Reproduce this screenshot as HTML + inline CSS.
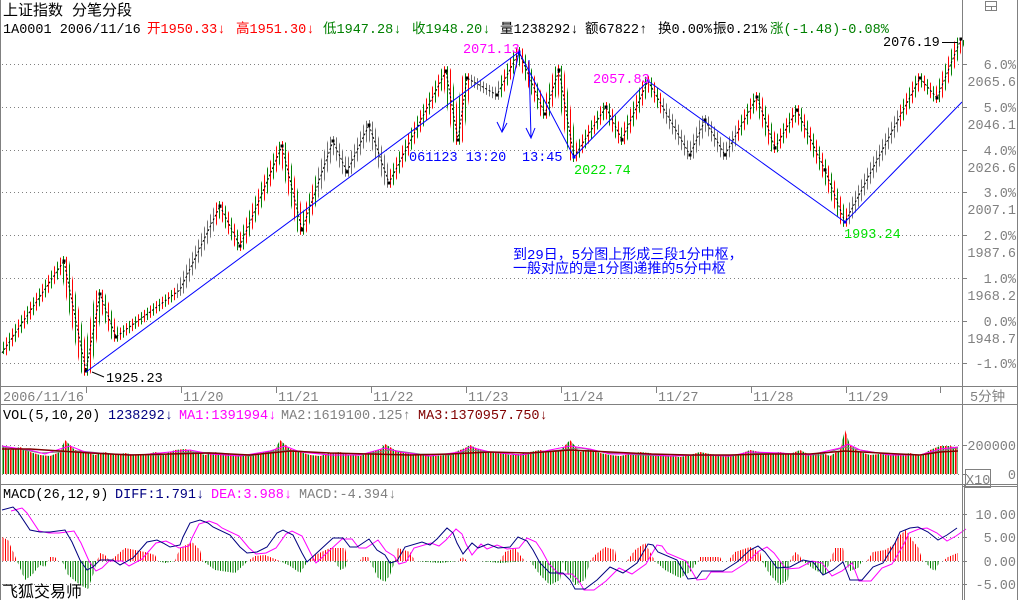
<!DOCTYPE html>
<html><head><meta charset="utf-8">
<style>
html,body{margin:0;padding:0;background:#fff;}
svg{display:block;font-family:"Liberation Mono","Noto Sans CJK SC",monospace;}
</style></head>
<body>
<svg width="1020" height="600" xmlns="http://www.w3.org/2000/svg" xmlns:xlink="http://www.w3.org/1999/xlink">
<defs>
<pattern id="rg" patternUnits="userSpaceOnUse" x="0" y="0" width="6" height="20">
<rect x="0" y="0" width="1" height="20" fill="#ff0000"/>
<rect x="3" y="0" width="1" height="20" fill="#008000"/>
</pattern>
<pattern id="gp" patternUnits="userSpaceOnUse" x="0" y="0" width="3" height="20">
<rect x="0" y="0" width="1" height="20" fill="#707070"/>
</pattern>
<pattern id="vrg" patternUnits="userSpaceOnUse" x="0" y="0" width="5" height="20">
<rect x="0" y="0" width="1.6" height="20" fill="#ff0000"/>
<rect x="2.5" y="0" width="1.6" height="20" fill="#008000"/>
</pattern>
<pattern id="hr" patternUnits="userSpaceOnUse" x="0" y="0" width="2.5" height="20">
<rect x="0" y="0" width="1" height="20" fill="#ff0000"/>
</pattern>
<pattern id="hg" patternUnits="userSpaceOnUse" x="0" y="0" width="2.5" height="20">
<rect x="0" y="0" width="1" height="20" fill="#008000"/>
</pattern>
<clipPath id="grayc">
<rect x="175" y="0" width="40" height="386"/>
<rect x="318" y="0" width="72" height="386"/>
<rect x="470" y="0" width="30" height="386"/>
<rect x="662" y="0" width="76" height="386"/>
<rect x="848" y="0" width="52" height="386"/>
</clipPath>
<clipPath id="above"><rect x="0" y="486" width="962" height="75"/></clipPath>
<clipPath id="below"><rect x="0" y="561" width="962" height="39"/></clipPath>
<polyline id="zz" points="2,353 64,261 86,371 100,294 116,337 180,290 220,206 240,246 282,146 302,230 333,141 347,172 369,125 389,183 446,71 458,140 467,78 497,95 519,52 545,114 559,70 574,157 606,107 622,140 648,81 690,155 705,120 725,155 757,97 775,148 797,110 825,170 845,222 920,78 937,98 961,39" fill="none"/>
<polyline id="diff" fill="none" points="2,510 13,507 18,512 30,530 40,532 50,532 65,530 72,542 80,560 87,570 93,567 100,560 113,560 120,565 133,558 147,542 157,540 163,543 170,547 180,545 183,537 190,523 200,520 208,523 213,527 230,535 240,547 247,553 257,552 267,547 277,533 283,530 293,535 302,553 307,562 320,550 333,538 343,538 350,547 357,547 369,539 377,550 385,555 390,563 397,561 405,547 422,542 430,545 437,539 447,528 453,533 457,543 463,554 472,543 478,548 488,544 498,548 510,547 518,537 527,541 533,550 540,563 550,573 563,573 570,580 575,589 585,589 597,580 610,567 623,573 637,563 648,544 653,545 658,552 677,560 688,579 697,578 702,571 723,571 737,562 750,550 758,546 765,552 777,568 790,567 803,560 813,562 823,575 833,570 843,562 850,580 862,580 873,567 883,563 895,543 900,532 910,528 918,527 928,532 938,540 947,535 957,528"/>
</defs>
<rect width="1020" height="600" fill="#fff"/>
<g stroke="#808080" stroke-dasharray="1,3">
<line x1="2" y1="64.5" x2="962" y2="64.5"/><line x1="2" y1="107.5" x2="962" y2="107.5"/>
<line x1="2" y1="150.5" x2="962" y2="150.5"/><line x1="2" y1="192.5" x2="962" y2="192.5"/>
<line x1="2" y1="235.5" x2="962" y2="235.5"/><line x1="2" y1="278.5" x2="962" y2="278.5"/>
<line x1="2" y1="321.5" x2="962" y2="321.5"/><line x1="2" y1="363.5" x2="962" y2="363.5"/>
<line x1="2" y1="445.5" x2="962" y2="445.5"/><line x1="2" y1="474.5" x2="962" y2="474.5"/>
<line x1="2" y1="514.5" x2="962" y2="514.5"/><line x1="2" y1="537.5" x2="962" y2="537.5"/>
<line x1="2" y1="561.5" x2="962" y2="561.5"/><line x1="2" y1="584.5" x2="962" y2="584.5"/>
</g>
<g stroke="#808080">
<line x1="962" y1="64.5" x2="967" y2="64.5"/><line x1="962" y1="107.5" x2="967" y2="107.5"/>
<line x1="962" y1="150.5" x2="967" y2="150.5"/><line x1="962" y1="192.5" x2="967" y2="192.5"/>
<line x1="962" y1="235.5" x2="967" y2="235.5"/><line x1="962" y1="278.5" x2="967" y2="278.5"/>
<line x1="962" y1="321.5" x2="967" y2="321.5"/><line x1="962" y1="363.5" x2="967" y2="363.5"/>
<line x1="962" y1="445.5" x2="967" y2="445.5"/><line x1="962" y1="474.5" x2="967" y2="474.5"/>
<line x1="962" y1="514.5" x2="967" y2="514.5"/><line x1="962" y1="537.5" x2="967" y2="537.5"/>
<line x1="962" y1="561.5" x2="967" y2="561.5"/><line x1="962" y1="584.5" x2="967" y2="584.5"/>
</g>
<use xlink:href="#zz" stroke="url(#rg)" stroke-width="10" stroke-linejoin="round"/>
<g clip-path="url(#grayc)">
<use xlink:href="#zz" stroke="#fff" stroke-width="11" stroke-linejoin="round"/>
<use xlink:href="#zz" stroke="url(#gp)" stroke-width="10" stroke-linejoin="round"/>
</g>
<use xlink:href="#zz" stroke="#000" stroke-dasharray="2,2"/>
<g fill="#000">
<rect x="62.5" y="259.5" width="3" height="3"/><rect x="84.5" y="369.5" width="3" height="3"/><rect x="98.5" y="292.5" width="3" height="3"/><rect x="114.5" y="335.5" width="3" height="3"/><rect x="218.5" y="204.5" width="3" height="3"/><rect x="238.5" y="244.5" width="3" height="3"/><rect x="280.5" y="144.5" width="3" height="3"/><rect x="300.5" y="228.5" width="3" height="3"/><rect x="331.5" y="139.5" width="3" height="3"/><rect x="345.5" y="170.5" width="3" height="3"/><rect x="367.5" y="123.5" width="3" height="3"/><rect x="387.5" y="181.5" width="3" height="3"/><rect x="444.5" y="69.5" width="3" height="3"/><rect x="456.5" y="138.5" width="3" height="3"/><rect x="465.5" y="76.5" width="3" height="3"/><rect x="495.5" y="93.5" width="3" height="3"/><rect x="543.5" y="112.5" width="3" height="3"/><rect x="557.5" y="68.5" width="3" height="3"/><rect x="604.5" y="105.5" width="3" height="3"/><rect x="620.5" y="138.5" width="3" height="3"/><rect x="688.5" y="153.5" width="3" height="3"/><rect x="703.5" y="118.5" width="3" height="3"/><rect x="723.5" y="153.5" width="3" height="3"/><rect x="755.5" y="95.5" width="3" height="3"/><rect x="773.5" y="146.5" width="3" height="3"/><rect x="795.5" y="108.5" width="3" height="3"/><rect x="823.5" y="168.5" width="3" height="3"/><rect x="918.5" y="76.5" width="3" height="3"/><rect x="935.5" y="96.5" width="3" height="3"/><rect x="959.5" y="37.5" width="3" height="3"/>
</g>
<g fill="#0000ff">
<rect x="517.5" y="50.5" width="3" height="3"/><rect x="572.5" y="155.5" width="3" height="3"/><rect x="646.5" y="79.5" width="3" height="3"/><rect x="843.5" y="220.5" width="3" height="3"/>
</g>
<g stroke="#0000ff" fill="none">
<polyline points="86,372 519,52 574,157 648,81 845,222 962,102"/>
<line x1="519" y1="52" x2="502" y2="132"/>
<polyline points="497,122 502,132 507,123"/>
<line x1="529" y1="60" x2="531" y2="138"/>
<polyline points="526,128 531,138 535,128"/>
</g>
<polygon fill="url(#vrg)" points="2,474 2,446 10,450 20,447 30,452 40,455 50,456 60,452 65,440 75,450 85,452 95,455 105,452 115,455 125,453 135,455 145,455 155,452 165,454 175,450 185,449 195,452 205,455 215,452 225,454 235,455 245,456 255,455 265,452 275,450 280,440 290,449 300,452 310,455 320,456 330,453 340,452 350,455 360,456 370,452 380,450 385,444 395,450 405,453 415,455 425,455 435,456 445,455 455,452 465,448 470,445 480,450 490,452 500,453 510,455 520,454 530,452 540,450 550,452 560,451 570,440 580,452 590,449 600,453 610,455 620,456 630,454 640,452 650,453 660,455 670,456 680,457 690,455 700,452 710,454 720,455 730,455 740,454 750,450 760,452 770,453 780,452 790,454 800,450 810,455 820,452 830,456 840,450 845,430 850,445 860,452 870,455 880,454 890,455 900,455 910,453 920,456 930,450 940,446 950,446 958,448 958,474"/>
<polyline fill="none" stroke="#808080" points="2,447 20,449 40,453 60,452 80,451 100,453 130,455 160,455 190,452 220,453 250,456 280,450 300,451 330,455 360,455 390,450 420,454 450,455 470,450 490,452 520,455 550,451 580,448 610,453 640,455 670,456 700,455 730,456 760,453 790,454 820,455 845,447 860,450 890,455 920,455 950,449 958,448"/>
<polyline fill="none" stroke="#ff00ff" points="2,446 15,448 30,450 45,454 60,449 70,446 85,452 110,454 140,455 170,452 190,450 210,454 240,456 270,451 285,446 300,452 330,455 360,455 385,448 400,452 430,456 460,452 470,447 490,452 520,455 545,451 570,446 590,449 610,454 640,454 670,456 700,455 730,456 750,452 780,453 810,455 840,448 848,444 860,450 890,455 920,455 940,449 958,447"/>
<polyline fill="none" stroke="#800000" stroke-width="1.5" points="2,449 30,449 60,451 90,453 130,455 170,454 210,453 250,455 290,451 330,453 370,454 410,455 450,454 490,452 530,453 570,450 610,452 650,454 690,455 730,455 770,454 810,454 845,451 880,453 920,455 940,452 958,451"/>
<polygon clip-path="url(#above)" fill="url(#hr)" points="2,561 2,537 8,540 15,556 17,561 48,561 50,557 55,557 58,561 97,561 100,553 105,555 110,561 125,548 135,550 145,552 155,555 158,561 175,561 180,548 192,542 200,550 203,561 248,561 255,556 265,555 280,561 308,561 315,555 330,548 345,548 348,561 360,561 362,557 368,557 370,561 395,561 398,548 410,552 415,561 458,561 462,557 468,561 500,561 505,552 515,548 520,555 525,561 590,561 595,555 605,547 615,550 617,561 627,561 635,550 645,543 655,561 698,561 700,557 720,557 722,561 728,561 735,552 750,547 760,552 762,561 790,561 795,552 800,556 802,561 830,561 835,548 843,548 845,561 867,561 873,552 885,550 893,545 900,535 906,530 912,540 918,547 923,561 943,561 948,557 955,554 958,553 958,561"/>
<polygon clip-path="url(#below)" fill="url(#hg)" points="17,561 25,580 32,575 40,565 45,567 48,561 62,561 68,575 80,585 88,589 93,575 97,561 158,561 165,563 175,561 203,561 215,570 235,573 248,561 280,561 290,566 300,573 308,561 335,561 340,570 345,568 348,561 370,561 378,578 385,582 390,575 395,561 415,561 440,563 458,561 480,561 500,563 525,561 530,561 540,575 550,585 560,580 563,561 565,570 575,585 585,580 590,561 655,561 665,570 680,578 690,572 698,561 762,561 770,575 780,585 788,580 790,561 803,561 815,570 825,575 830,561 845,561 850,571 858,568 862,561 925,561 930,568 935,571 940,561"/>
<use xlink:href="#diff" stroke="#ff00ff" transform="translate(9,1)"/>
<use xlink:href="#diff" stroke="#000080"/>
<line x1="0.5" y1="0" x2="0.5" y2="600" stroke="#808080"/>
<line x1="962.5" y1="0" x2="962.5" y2="600" stroke="#808080"/>
<line x1="964.5" y1="485" x2="964.5" y2="600" stroke="#808080"/>
<line x1="1017.5" y1="0" x2="1017.5" y2="600" stroke="#808080"/>
<line x1="0" y1="386.5" x2="1017" y2="386.5" stroke="#808080"/>
<line x1="0" y1="404.5" x2="1017" y2="404.5" stroke="#808080"/>
<line x1="0" y1="484.5" x2="1017" y2="484.5" stroke="#808080"/>
<line x1="962" y1="486.5" x2="1017" y2="486.5" stroke="#808080"/>
<rect x="985.5" y="1.5" width="11" height="9" fill="none" stroke="#808080"/>
<line x1="985" y1="6.5" x2="997" y2="6.5" stroke="#808080"/>
<line x1="991.5" y1="6" x2="991.5" y2="11" stroke="#808080"/>
<g stroke="#808080">
<line x1="86.5" y1="387" x2="86.5" y2="393"/><line x1="181.5" y1="387" x2="181.5" y2="393"/><line x1="276.5" y1="387" x2="276.5" y2="393"/><line x1="371.5" y1="387" x2="371.5" y2="393"/><line x1="466.5" y1="387" x2="466.5" y2="393"/><line x1="561.5" y1="387" x2="561.5" y2="393"/><line x1="656.5" y1="387" x2="656.5" y2="393"/><line x1="751.5" y1="387" x2="751.5" y2="393"/><line x1="846.5" y1="387" x2="846.5" y2="393"/><line x1="940.5" y1="387" x2="940.5" y2="393"/>
</g>
<text x="3" y="15" font-size="15" fill="#000">上证指数 分笔分段</text>
<g font-size="13.5">
<text x="3" y="33" fill="#000">1A0001 2006/11/16</text>
<text x="147" y="33" fill="#ff0000">开1950.33↓</text>
<text x="236" y="33" fill="#ff0000">高1951.30↓</text>
<text x="323" y="33" fill="#008000">低1947.28↓</text>
<text x="412" y="33" fill="#008000">收1948.20↓</text>
<text x="500" y="33" fill="#000">量1238292↓</text>
<text x="585" y="33" fill="#000">额67822↑</text>
<text x="658" y="33" fill="#000">换0.00%</text>
<text x="713" y="33" fill="#000">振0.21%</text>
<text x="770" y="33" fill="#008000">涨(-1.48)-0.08%</text>
</g>
<g font-size="13.5" fill="#808080" text-anchor="end">
<text x="1016" y="69">6.0%</text><text x="1016" y="86">2065.6</text>
<text x="1016" y="112">5.0%</text><text x="1016" y="129">2046.1</text>
<text x="1016" y="155">4.0%</text><text x="1016" y="172">2026.6</text>
<text x="1016" y="197">3.0%</text><text x="1016" y="214">2007.1</text>
<text x="1016" y="240">2.0%</text><text x="1016" y="257">1987.6</text>
<text x="1016" y="283">1.0%</text><text x="1016" y="300">1968.2</text>
<text x="1016" y="326">0.0%</text><text x="1016" y="343">1948.7</text>
<text x="1016" y="368">-1.0%</text>
<text x="1016" y="450">200000</text>
<text x="1016" y="479">0</text>
<text x="1016" y="519">10.00</text>
<text x="1016" y="542">5.00</text>
<text x="1016" y="566">0.00</text>
<text x="1016" y="589">-5.00</text>
</g>
<rect x="965.5" y="469.5" width="25" height="18" fill="none" stroke="#808080"/>
<text x="966" y="484" font-size="13.5" fill="#808080">X10</text>
<text x="970" y="401" font-size="13.5" fill="#808080">5分钟</text>
<g font-size="13.5" fill="#808080">
<text x="3" y="401">2006/11/16</text>
<text x="183" y="401">11/20</text>
<text x="278" y="401">11/21</text>
<text x="373" y="401">11/22</text>
<text x="468" y="401">11/23</text>
<text x="563" y="401">11/24</text>
<text x="658" y="401">11/27</text>
<text x="753" y="401">11/28</text>
<text x="848" y="401">11/29</text>
</g>
<g font-size="13.5">
<text x="3" y="419" fill="#000">VOL(5,10,20)</text>
<text x="108" y="419" fill="#000080">1238292↓</text>
<text x="179" y="419" fill="#ff00ff">MA1:1391994↓</text>
<text x="281" y="419" fill="#808080">MA2:1619100.125↑</text>
<text x="418" y="419" fill="#800000">MA3:1370957.750↓</text>
<text x="3" y="498" fill="#000">MACD(26,12,9)</text>
<text x="115" y="498" fill="#000080">DIFF:1.791↓</text>
<text x="211" y="498" fill="#ff00ff">DEA:3.988↓</text>
<text x="299" y="498" fill="#808080">MACD:-4.394↓</text>
</g>
<text x="2" y="597" font-size="16" fill="#000">飞狐交易师</text>
<g font-size="13.5">
<text x="463" y="53" fill="#ff00ff">2071.13</text>
<text x="593" y="83" fill="#ff00ff">2057.83</text>
<text x="574" y="174" fill="#00e000">2022.74</text>
<text x="844" y="238" fill="#00e000">1993.24</text>
<text x="106" y="382" fill="#000">1925.23</text>
<text x="883" y="46" fill="#000">2076.19</text>
<text x="409" y="161" fill="#0000ff">061123 13:20</text>
<text x="522" y="161" fill="#0000ff">13:45</text>
</g>
<line x1="942" y1="42.5" x2="958" y2="42.5" stroke="#000"/>
<line x1="92" y1="372" x2="104" y2="377" stroke="#000"/>
<g font-size="14" fill="#0000ff">
<text x="513" y="259">到29日，5分图上形成三段1分中枢，</text>
<text x="513" y="273">一般对应的是1分图递推的5分中枢</text>
</g>
</svg>
</body></html>
